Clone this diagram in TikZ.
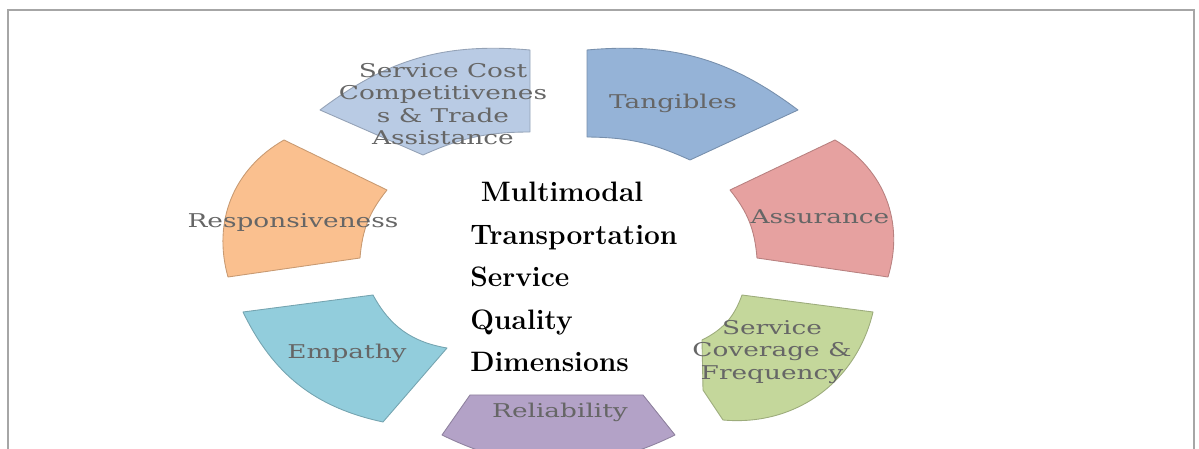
\documentclass[tikz,border=0pt]{standalone}
\usepackage{fontspec}
\usepackage{xcolor}
\usepackage{tikz}
\usetikzlibrary{positioning}
\newfontfamily\segfont{DejaVu Serif}
\definecolor{sqframe}{HTML}{A6A6A6}
\definecolor{sqtext}{HTML}{666666}
\definecolor{sqcost}{HTML}{B9CBE4}
\definecolor{sqtang}{HTML}{95B3D7}
\definecolor{sqassu}{HTML}{E6A1A0}
\definecolor{sqcove}{HTML}{C4D79B}
\definecolor{sqreli}{HTML}{B3A2C7}
\definecolor{sqempa}{HTML}{92CDDC}
\definecolor{sqresp}{HTML}{FAC08F}
\tikzset{
  seg/.style={line width=0.5pt,line join=round},
  seglabel/.style={align=center,text=sqtext,inner sep=0pt,yscale=0.72,
                   font=\segfont\fontsize{15}{17.8}\selectfont},
  frame/.style={draw=sqframe,line width=1pt},
}
\begin{document}
\begin{tikzpicture}[
  hub/.style={align=left,text=black,inner sep=0pt,
              font=\fontsize{16}{24.2}\selectfont\bfseries}]
  \useasboundingbox (0,0) rectangle (23.98,8.98);
  \clip (0,0) rectangle (23.98,8.98);
  \draw[frame] (0.16,-0.1) -- (0.16,8.78) -- (23.88,8.78) -- (23.88,-0.1);
  % ring segments, clockwise from the top
  \filldraw[seg,fill=sqtang,draw=sqtang!80!black] (11.74,7.98) -- (11.74,6.24)
    to[bend left=12] (13.80,5.78) -- (15.96,6.78) to[bend right=21] cycle;
  \filldraw[seg,fill=sqassu,draw=sqassu!80!black] (16.70,6.18) -- (14.60,5.18)
    to[bend left=17] (15.14,3.82) -- (17.76,3.44) to[bend right=38] cycle;
  \filldraw[seg,fill=sqcove,draw=sqcove!80!black] (14.84,3.08) -- (17.46,2.74)
    to[bend left=41] (14.46,0.58) -- (14.06,1.18) -- (14.04,2.18)
    to[bend right=22] cycle;
  \filldraw[seg,fill=sqreli,draw=sqreli!80!black] (9.40,1.08) -- (12.86,1.08)
    -- (13.50,0.28) to[bend left=26] (8.84,0.28) -- cycle;
  \filldraw[seg,fill=sqempa,draw=sqempa!80!black] (4.86,2.74) -- (7.46,3.08)
    to[bend right=26] (8.94,2.02) -- (7.66,0.54) to[bend left=26] cycle;
  \filldraw[seg,fill=sqresp,draw=sqresp!80!black] (5.68,6.18) -- (7.74,5.18)
    to[bend right=17] (7.20,3.82) -- (4.56,3.44) to[bend left=38] cycle;
  \filldraw[seg,fill=sqcost,draw=sqcost!80!black] (10.60,7.98) -- (10.60,6.34)
    to[bend right=12] (8.46,5.88) -- (6.40,6.78) to[bend left=21] cycle;
  % labels
  \node[seglabel] (tan) at (13.46,6.92) {Tangibles};
  \node[seglabel] (asr) at (16.40,4.64) {Assurance};
  \node[seglabel] (cov) at (15.44,1.94) {Service\\Coverage \&\\Frequency};
  \node[seglabel] (rel) at (11.20,0.74) {Reliability};
  \node[seglabel] (emp) at (6.94,1.92) {Empathy};
  \node[seglabel] (rsp) at (5.86,4.54) {Responsiveness};
  \node[seglabel] (svc) at (8.86,6.90) {Service Cost\\Competitivenes\\s \& Trade\\Assistance};
  \node[hub,anchor=west] (hub) at (9.40,3.44)
    {\ Multimodal\\Transportation\\Service\\Quality\\Dimensions};
\end{tikzpicture}
\end{document}
